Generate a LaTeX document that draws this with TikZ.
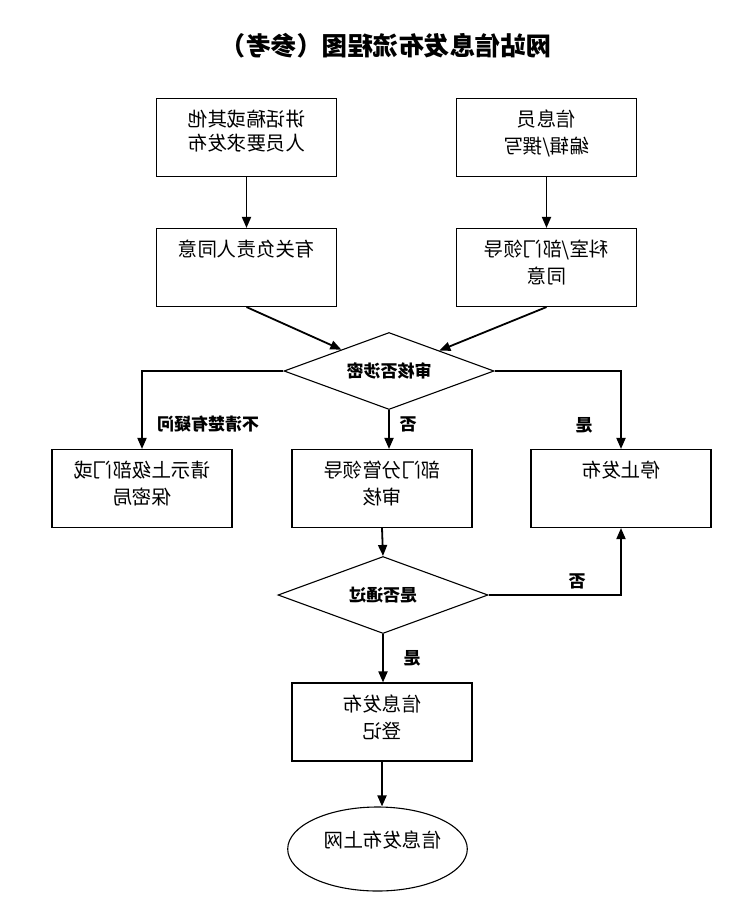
\documentclass[tikz,border=0pt]{standalone}
\usepackage{fontspec}
\usepackage{graphicx}
\newfontfamily\cjk{Noto Sans CJK SC}
\usetikzlibrary{shapes.geometric,arrows.meta}

\newcommand{\mirror}[1]{\reflectbox{\begin{tabular}[t]{@{}c@{}}#1\end{tabular}}}

\tikzset{
  box/.style={draw, line width=1.1pt, rectangle, minimum width=180pt, minimum height=78pt,
    inner sep=0pt, text height=28.4pt, text depth=49.6pt,
    font=\cjk\fontsize{19.5}{27}\selectfont},
  decision/.style={draw, line width=1.1pt, diamond, aspect=2.7, minimum width=210pt, minimum height=77pt,
    inner sep=0pt, font=\cjk\bfseries\fontsize{17}{20}\selectfont},
  tag/.style={inner sep=0pt, font=\cjk\bfseries\fontsize{17}{20}\selectfont},
  flow/.style={-{Triangle[length=11pt,width=9pt]}, line width=1.8pt},
}

\begin{document}
\begin{tikzpicture}[x=1pt, y=-1pt]
  \useasboundingbox (0,0) rectangle (749,918);
  \node[inner sep=0pt, font=\cjk\bfseries\fontsize{25.5}{30}\selectfont] (title) at (386,46)
    {\reflectbox{网站信息发布流程图（参考）}};

  \node[box] (speech) at (246.5,137.5) {\mirror{讲话稿或其他\\[-3pt]人员要求发布}};
  \node[box] (editor) at (546.5,137.5) {\mirror{信息员\\编辑/撰写}};
  \node[box] (leader) at (246.5,267.5) {\mirror{有关负责人同意}};
  \node[box] (office) at (546.5,267.5) {\mirror{科室/部门领导\\同意}};

  \node[decision] (secret) at (389,371) {\reflectbox{审核否涉密}};

  \node[box] (upper) at (142,488.5) {\mirror{请示上级部门或\\保密局}};
  \node[box] (review) at (382,488.5) {\mirror{部门分管领导\\审核}};
  \node[box] (stop) at (621,488.5) {\mirror{停止发布}};

  \node[decision] (pass) at (383,595) {\reflectbox{是否通过}};
  \node[box] (record) at (382,722) {\mirror{信息发布\\登记}};
  \node[draw, line width=1.1pt, ellipse, minimum width=171pt, minimum height=84pt, inner sep=0pt,
    text height=16pt, text depth=19pt, font=\cjk\fontsize{19.5}{27}\selectfont]
    (online) at (377.5,849) {\reflectbox{信息发布上网\hspace{10pt}}};

  \draw[flow] (speech) -- (leader);
  \draw[flow] (editor) -- (office);
  \draw[flow] (leader.south) -- (secret);
  \draw[flow] (office.south) -- (secret);
  \draw[flow] (secret.west) -| (upper.north);
  \draw[flow] (secret.south) -- (secret.south |- review.north);
  \draw[flow] (secret.east) -| (stop.north);
  \draw[flow] (review.south) -- (pass.north);
  \draw[flow] (pass.south) -- (pass.south |- record.north);
  \draw[flow] (pass.east) -| (stop.south);
  \draw[flow] (record.south) -- (record.south |- online.north);

  \node[tag] (unclear) at (208,424) {\reflectbox{不清楚有疑问}};
  \node[tag] (no1) at (408,424) {\reflectbox{否}};
  \node[tag] (yes1) at (584,425) {\reflectbox{是}};
  \node[tag] (no2) at (577,581) {\reflectbox{否}};
  \node[tag] (yes2) at (412,658) {\reflectbox{是}};
\end{tikzpicture}
\end{document}
